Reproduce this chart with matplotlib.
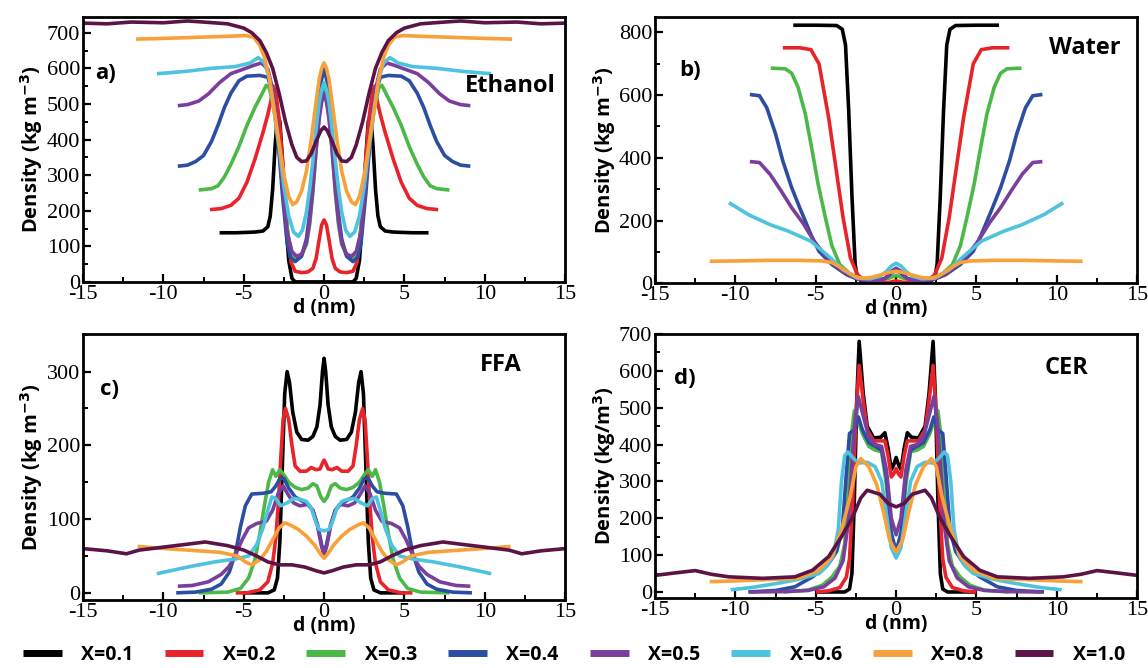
import numpy as np
from matplotlib import pyplot as plt
from matplotlib.ticker import MultipleLocator

# half profiles (d >= 0, in nm), density in kg m^-3
# the profiles are symmetric about the bilayer centre, so they are mirrored

labels = ["X=0.1", "X=0.2", "X=0.3", "X=0.4", "X=0.5", "X=0.6", "X=0.8", "X=1.0"]
colors = ['#000000', '#e8232a', '#4cb848', '#2b4ea2', '#7a3e9d', '#4ec3e0', '#f8a13a', '#5c1348']

# a) ethanol
eth_01 = [(0, 0), (1.5, 0), (1.8, 0), (2.0, 10), (2.2, 60), (2.4, 180), (2.6, 350), (2.75, 450), (2.9, 470),
          (3.05, 380), (3.2, 260), (3.35, 185), (3.5, 155), (3.8, 143), (4.3, 140), (5.5, 138), (6.5, 138)]
eth_02 = [(0, 174), (0.15, 160), (0.3, 120), (0.5, 65), (0.7, 38), (1.0, 28), (1.4, 26), (1.8, 30), (2.05, 55),
          (2.3, 150), (2.55, 320), (2.8, 460), (3.0, 530), (3.15, 550), (3.3, 510), (3.5, 470), (3.8, 420),
          (4.3, 345), (4.8, 280), (5.3, 235), (5.8, 215), (6.4, 206), (7.1, 203)]
eth_03 = [(0, 548), (0.15, 520), (0.3, 470), (0.5, 370), (0.7, 250), (0.9, 160), (1.1, 105), (1.4, 75), (1.7, 65),
          (2.0, 80), (2.2, 120), (2.5, 230), (2.8, 370), (3.1, 480), (3.4, 545), (3.6, 552), (3.9, 525),
          (4.3, 490), (4.8, 440), (5.3, 380), (5.8, 330), (6.2, 295), (6.6, 270), (7.0, 262), (7.8, 258)]
eth_04 = [(0, 598), (0.15, 570), (0.3, 520), (0.5, 410), (0.7, 290), (0.9, 190), (1.1, 120), (1.4, 72), (1.8, 57),
          (2.1, 70), (2.3, 110), (2.6, 250), (2.9, 420), (3.2, 530), (3.5, 575), (4.0, 580), (4.8, 578),
          (5.3, 565), (5.8, 530), (6.2, 490), (6.6, 440), (7.0, 395), (7.5, 355), (8.0, 338), (8.5, 328), (9.1, 325)]
eth_05 = [(0, 530), (0.15, 505), (0.3, 460), (0.5, 370), (0.7, 260), (0.9, 170), (1.1, 110), (1.4, 78), (1.7, 72),
          (2.0, 85), (2.3, 140), (2.6, 280), (2.9, 430), (3.2, 540), (3.5, 598), (3.9, 615), (4.4, 608),
          (5.0, 598), (5.8, 585), (6.5, 560), (7.2, 528), (7.8, 508), (8.5, 498), (9.1, 495)]
eth_06 = [(0, 560), (0.15, 540), (0.3, 505), (0.5, 430), (0.7, 340), (0.9, 260), (1.1, 195), (1.35, 145),
          (1.6, 128), (1.9, 140), (2.2, 185), (2.5, 270), (2.8, 380), (3.1, 480), (3.4, 570), (3.7, 615),
          (4.1, 630), (4.6, 615), (5.5, 605), (7.0, 600), (8.5, 592), (9.5, 588), (10.4, 585)]
eth_08 = [(0, 615), (0.15, 600), (0.3, 570), (0.5, 505), (0.8, 400), (1.1, 310), (1.4, 255), (1.7, 225),
          (1.95, 217), (2.2, 240), (2.5, 300), (2.8, 390), (3.1, 480), (3.4, 570), (3.7, 630), (4.0, 665),
          (4.4, 688), (4.9, 692), (6.0, 690), (8.0, 687), (10.0, 684), (11.7, 682)]
eth_10 = [(0, 435), (0.2, 425), (0.5, 395), (0.8, 360), (1.1, 340), (1.4, 338), (1.7, 350), (2.0, 385),
          (2.4, 450), (2.8, 530), (3.2, 600), (3.6, 645), (4.0, 678), (4.5, 700), (5.0, 713), (6.0, 725),
          (7.5, 730), (8.5, 733), (10.0, 728), (12.0, 730), (13.5, 725), (15.0, 727)]

# b) water
wat_01 = [(0, 0), (1.9, 0), (2.1, 5), (2.4, 16), (2.55, 60), (2.75, 280), (2.95, 550), (3.15, 760),
          (3.35, 810), (3.7, 822), (5.0, 823), (6.4, 823)]
wat_02 = [(0, 8), (0.4, 3), (1.5, 2), (2.0, 10), (2.4, 27), (2.84, 80), (3.3, 209), (3.75, 369), (4.2, 529),
          (4.8, 700), (5.3, 745), (6.0, 751), (7.05, 751)]
wat_03 = [(0, 25), (0.5, 15), (1.5, 12), (2.2, 15), (2.8, 27), (3.5, 59), (4.0, 120), (4.4, 209), (4.85, 315),
          (5.25, 430), (5.65, 540), (6.1, 625), (6.5, 670), (6.9, 684), (7.8, 686)]
wat_04 = [(0, 42), (0.3, 32), (0.7, 15), (1.2, 8), (2.0, 10), (2.4, 13), (3.07, 27), (4.0, 60), (4.8, 102),
          (5.3, 155), (6.0, 241), (6.5, 305), (7.05, 390), (7.5, 476), (8.05, 560), (8.5, 598), (9.1, 602)]
wat_05 = [(0, 48), (0.3, 38), (0.7, 15), (1.2, 6), (2.0, 10), (2.4, 14), (3.3, 37), (4.2, 75), (5.1, 134),
          (5.8, 192), (6.5, 241), (7.15, 294), (7.85, 348), (8.5, 385), (9.1, 388)]
wat_06 = [(0, 64), (0.3, 55), (0.6, 38), (1.0, 22), (1.6, 14), (2.4, 16), (3.3, 43), (4.2, 86), (5.3, 134),
          (6.7, 166), (7.85, 187), (9.2, 219), (10.4, 257)]
wat_08 = [(0, 38), (0.5, 34), (1.0, 26), (1.6, 18), (2.16, 16), (2.6, 22), (3.07, 37), (3.6, 55), (4.0, 66),
          (4.6, 71), (6.0, 73), (8.0, 73), (10.0, 71), (11.6, 70)]

# c) FFA
ffa_01 = [(0, 318), (0.1, 300), (0.25, 255), (0.45, 225), (0.7, 212), (1.0, 207), (1.4, 208), (1.7, 218),
          (1.95, 245), (2.15, 285), (2.3, 300), (2.45, 270), (2.6, 170), (2.75, 70), (2.9, 20), (3.1, 4),
          (3.5, 0), (5.0, 0)]
ffa_02 = [(0, 180), (0.1, 176), (0.25, 168), (0.5, 167), (0.8, 170), (1.1, 165), (1.5, 165), (1.8, 172),
          (2.0, 200), (2.2, 235), (2.4, 250), (2.55, 235), (2.7, 180), (2.85, 120), (3.0, 75), (3.2, 40),
          (3.5, 15), (4.0, 4), (4.8, 0), (5.5, 0)]
ffa_03 = [(0, 124), (0.2, 130), (0.45, 145), (0.7, 148), (1.0, 142), (1.4, 140), (1.8, 143), (2.2, 150),
          (2.5, 160), (2.75, 167), (3.0, 158), (3.2, 167), (3.45, 150), (3.7, 120), (4.0, 80), (4.3, 45),
          (4.7, 20), (5.2, 6), (6.0, 1), (7.8, 0)]
ffa_04 = [(0, 54), (0.15, 65), (0.4, 92), (0.7, 112), (1.0, 120), (1.4, 125), (1.8, 130), (2.2, 142),
          (2.5, 155), (2.75, 155), (3.0, 145), (3.3, 137), (3.8, 135), (4.5, 134), (4.9, 118), (5.2, 90),
          (5.5, 55), (5.9, 28), (6.4, 12), (7.0, 5), (8.0, 1), (9.2, 0)]
ffa_05 = [(0, 52), (0.15, 62), (0.4, 90), (0.7, 112), (1.0, 120), (1.5, 118), (1.9, 122), (2.2, 132),
          (2.55, 145), (2.85, 135), (3.2, 112), (3.6, 97), (4.2, 94), (4.7, 88), (5.1, 72), (5.5, 52),
          (5.9, 36), (6.4, 25), (7.2, 15), (8.2, 10), (9.1, 9)]
ffa_06 = [(0, 84), (0.3, 86), (0.5, 95), (0.8, 115), (1.1, 124), (1.5, 127), (1.9, 128), (2.3, 122),
          (2.7, 118), (3.0, 128), (3.25, 130), (3.5, 112), (3.8, 88), (4.2, 65), (4.7, 50), (5.5, 46),
          (6.8, 42), (8.5, 35), (10.4, 26)]
ffa_08 = [(0, 47), (0.2, 52), (0.6, 65), (1.1, 77), (1.6, 86), (2.1, 92), (2.45, 95), (2.8, 88), (3.2, 72),
          (3.6, 56), (4.0, 45), (4.5, 38), (4.9, 42), (5.4, 50), (6.5, 55), (8.5, 58), (10.5, 61), (11.6, 63)]
ffa_10 = [(0, 27), (0.5, 30), (1.2, 35), (2.0, 38), (2.8, 38), (3.5, 42), (4.2, 50), (5.0, 58), (6.0, 64),
          (7.4, 69), (8.5, 66), (10.0, 62), (11.5, 58), (12.3, 53), (13.5, 57), (15.0, 60)]

# d) CER
cer_01 = [(0, 365), (0.15, 345), (0.3, 332), (0.5, 390), (0.7, 432), (0.95, 420), (1.4, 418), (1.8, 450),
          (2.05, 540), (2.3, 680), (2.45, 520), (2.6, 250), (2.75, 50), (2.9, 8), (3.2, 0), (5.0, 0)]
cer_02 = [(0, 335), (0.15, 320), (0.3, 312), (0.5, 370), (0.7, 410), (1.0, 410), (1.4, 410), (1.8, 440),
          (2.05, 520), (2.3, 615), (2.5, 480), (2.7, 250), (2.9, 90), (3.1, 40), (3.5, 12), (4.2, 3), (5.0, 0)]
cer_03 = [(0, 100), (0.3, 140), (0.6, 290), (0.9, 380), (1.3, 385), (1.7, 395), (2.1, 430), (2.4, 470),
          (2.6, 492), (2.8, 420), (3.0, 250), (3.2, 130), (3.5, 70), (4.0, 40), (4.6, 18), (5.5, 5), (7.0, 0)]
cer_04 = [(0, 110), (0.3, 160), (0.6, 310), (0.9, 385), (1.3, 395), (1.7, 405), (2.1, 440), (2.35, 475),
          (2.6, 440), (2.9, 430), (3.1, 320), (3.35, 170), (3.7, 110), (4.2, 77), (5.2, 41), (6.3, 14),
          (7.5, 4), (9.2, 0)]
cer_05 = [(0, 155), (0.3, 200), (0.6, 330), (0.9, 395), (1.3, 400), (1.7, 420), (2.0, 470), (2.35, 530),
          (2.55, 470), (2.75, 350), (3.0, 180), (3.3, 85), (3.8, 38), (4.5, 14), (5.5, 4), (7.0, 1), (9.1, 0)]
cer_06 = [(0, 92), (0.3, 120), (0.6, 210), (0.9, 300), (1.3, 340), (1.8, 352), (2.3, 350), (2.6, 360),
          (3.0, 380), (3.2, 370), (3.4, 300), (3.6, 170), (3.9, 100), (4.3, 70), (4.8, 50), (6.0, 35),
          (7.3, 24), (9.0, 12), (10.3, 6)]
cer_08 = [(0, 108), (0.4, 140), (0.8, 220), (1.2, 290), (1.7, 340), (2.2, 362), (2.5, 340), (2.85, 260),
          (3.4, 168), (4.0, 96), (4.8, 59), (6.1, 37), (8.3, 33), (10.0, 30), (11.6, 28)]
cer_10 = [(0, 231), (0.5, 240), (1.0, 265), (1.8, 276), (2.2, 255), (2.7, 204), (3.4, 150), (4.2, 96),
          (5.2, 59), (6.3, 41), (8.3, 37), (10.4, 41), (11.5, 48), (12.5, 58), (13.5, 53), (15.0, 45)]

LABEL_FONT = 'Open Sans'
TICK_FONT = 'Liberation Serif'
plt.rcParams['axes.unicode_minus'] = False


def mirror(half):
    d = np.array([p[0] for p in half], dtype=float)
    v = np.array([p[1] for p in half], dtype=float)
    return np.concatenate([-d[::-1], d[1:]]), np.concatenate([v[::-1], v[1:]])


def draw_panel(ax, series, ylim, ymajor, yminor, letter, name, name_xy, ylabel, letter_xy):
    for half, idx in series:
        d, v = mirror(half)
        ax.plot(d, v, color=colors[idx], lw=2.6, label=labels[idx], solid_capstyle='butt')
    ax.set_xlim(-15, 15)
    ax.set_ylim(*ylim)
    ax.xaxis.set_major_locator(MultipleLocator(5))
    ax.xaxis.set_minor_locator(MultipleLocator(2.5))
    ax.yaxis.set_major_locator(MultipleLocator(ymajor))
    ax.yaxis.set_minor_locator(MultipleLocator(yminor))
    ax.tick_params(which='major', direction='in', length=6, width=1.6, labelsize=16, pad=2,
                   labelfontfamily=TICK_FONT)
    ax.tick_params(which='minor', direction='in', length=3.5, width=1.4)
    for sp in ax.spines.values():
        sp.set_linewidth(2)
    ax.set_xlabel('d (nm)', fontfamily=LABEL_FONT, fontweight='bold', fontsize=14, labelpad=-4)
    ax.set_ylabel(ylabel, fontfamily=LABEL_FONT, fontweight='bold', fontsize=14.5, labelpad=1)
    ax.text(letter_xy[0], letter_xy[1], letter, transform=ax.transAxes, fontfamily=LABEL_FONT,
            fontweight='bold', fontsize=16, va='center', ha='left')
    ax.text(name_xy[0], name_xy[1], name, transform=ax.transAxes, fontfamily=LABEL_FONT,
            fontweight='bold', fontsize=17, va='center', ha='right')


fig = plt.figure(figsize=(11.48, 6.68), dpi=100)
ax_a = fig.add_axes([0.0723, 0.578, 0.420, 0.397])
ax_b = fig.add_axes([0.5706, 0.576, 0.420, 0.398])
ax_c = fig.add_axes([0.0723, 0.102, 0.420, 0.398])
ax_d = fig.add_axes([0.5706, 0.105, 0.420, 0.395])

dens = r'Density (kg m$^{\mathbf{-3}}$)'
draw_panel(ax_a, [(eth_01, 0), (eth_02, 1), (eth_03, 2), (eth_04, 3), (eth_05, 4), (eth_06, 5),
                  (eth_08, 6), (eth_10, 7)],
           (0, 745), 100, 50, 'a)', 'Ethanol', (0.98, 0.74), dens, (0.025, 0.785))
draw_panel(ax_b, [(wat_01, 0), (wat_02, 1), (wat_03, 2), (wat_04, 3), (wat_05, 4), (wat_06, 5),
                  (wat_08, 6)],
           (0, 848), 200, 100, 'b)', 'Water', (0.965, 0.885), dens, (0.05, 0.8))
draw_panel(ax_c, [(ffa_01, 0), (ffa_02, 1), (ffa_03, 2), (ffa_04, 3), (ffa_05, 4), (ffa_06, 5),
                  (ffa_08, 6), (ffa_10, 7)],
           (-9.5, 351), 100, 50, 'c)', 'FFA', (0.91, 0.885), dens, (0.035, 0.79))
draw_panel(ax_d, [(cer_01, 0), (cer_02, 1), (cer_03, 2), (cer_04, 3), (cer_05, 4), (cer_06, 5),
                  (cer_08, 6), (cer_10, 7)],
           (-16, 700), 100, 50, 'd)', 'CER', (0.9, 0.87), r'Density (kg/m$^{\mathbf{3}}$)', (0.04, 0.83))

handles, legend_labels = ax_a.get_legend_handles_labels()
leg = fig.legend(handles, legend_labels, loc='center', bbox_to_anchor=(0.5, 0.02), ncol=8, frameon=False,
                 handlelength=2.0, handletextpad=1.0, columnspacing=1.6,
                 prop={'family': LABEL_FONT, 'weight': 'bold', 'size': 14})
for line in leg.get_lines():
    line.set_linewidth(5)

fig.savefig('out.png', dpi=100)
plt.close(fig)
